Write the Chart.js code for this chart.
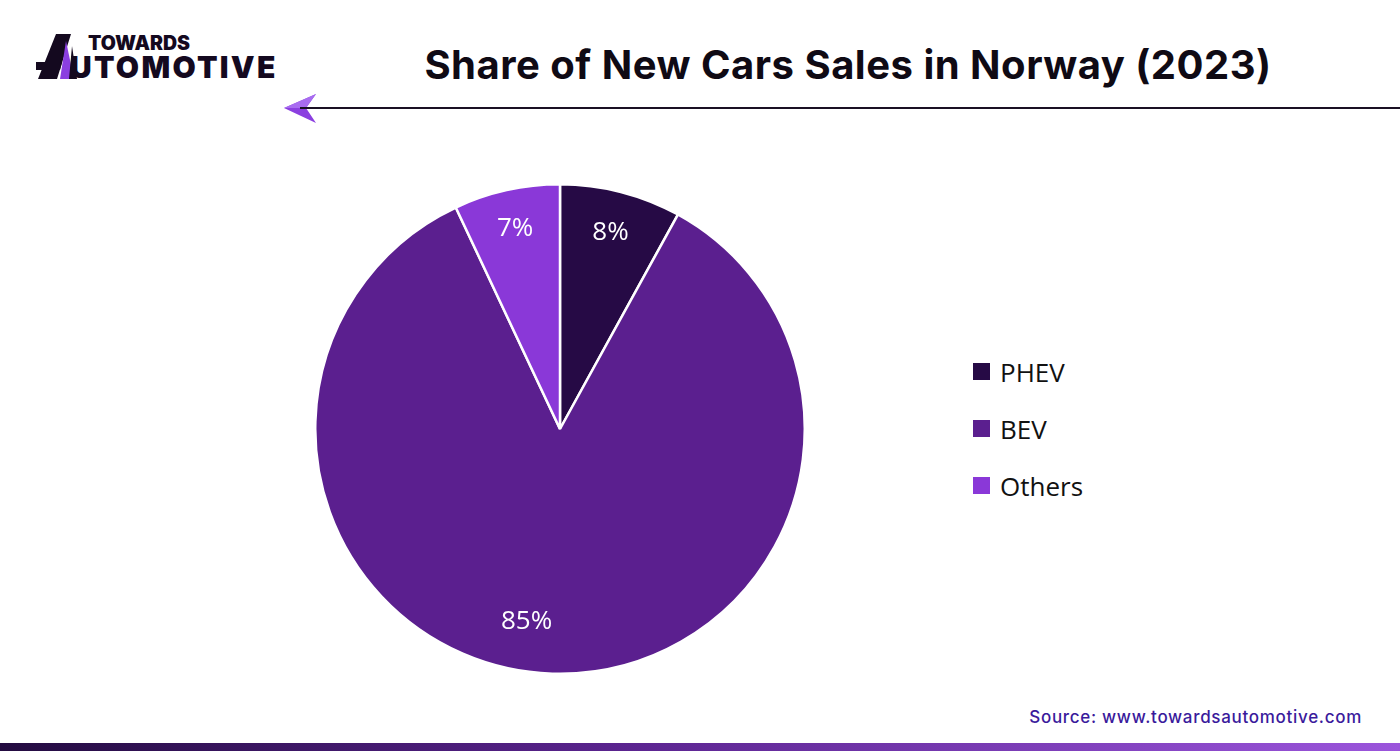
<!DOCTYPE html>
<html>
<head>
<meta charset="utf-8">
<script src="https://cdn.jsdelivr.net/npm/chart.js@4.4.1/dist/chart.umd.min.js"></script>
<style>
  html, body { margin:0; padding:0; background:#fff; }
  body { width:1400px; height:751px; position:relative; overflow:hidden; font-family:"Open Sans", "Noto Sans", sans-serif; }
  #title { position:absolute; left:0; width:1696px; top:40px; text-align:center; font-family:Inter, "Liberation Sans", sans-serif; font-weight:700; font-size:40px; color:#0f0a14; letter-spacing:0.5px; }
  #rule { position:absolute; left:300px; top:107px; width:1100px; height:2px; background:#1a1024; }
  #chartBox { position:absolute; left:314px; top:183px; width:492px; height:492px; }
  #legend { position:absolute; left:973px; top:343px; }
  .li { display:flex; align-items:center; height:57px; font-size:26px; color:#111; }
  .sw { width:17px; height:17px; margin-right:10px; }
  #source { position:absolute; right:38px; top:707px; font-family:Inter, "Open Sans", sans-serif; font-size:17px; letter-spacing:0.7px; color:#3a1a9c; font-weight:500; }
  #bar { position:absolute; left:0; top:743px; width:1400px; height:8px; background:linear-gradient(to right,#230b40,#5b2490 45%,#9b55dc); }
  #logo { position:absolute; left:36px; top:34px; }
</style>
</head>
<body>
<svg id="logo" width="260" height="50" viewBox="0 0 260 50">
  <polygon points="20,0 35,0 21,45 2,45" fill="#14091f"/>
  <polygon points="30,7 38,45 24,45" fill="#8b3fe0"/>
  <polygon points="0,28 26,28 24,36 0,36" fill="#14091f"/>
  <polygon points="36,12 41,45 33,45" fill="#14091f"/>
  <text x="52" y="16" font-family="Inter, Liberation Sans, sans-serif" font-weight="900" font-size="19.5" fill="#14091f">TOWARDS</text>
  <text x="34" y="44" font-family="Inter, Liberation Sans, sans-serif" font-weight="900" font-size="30" fill="#14091f" letter-spacing="2.3">UTOMOTIVE</text>
</svg>
<div id="title">Share of New Cars Sales in Norway (2023)</div>
<svg style="position:absolute;left:284px;top:94px" width="34" height="30"><polygon points="0,14 32,0 22,14 32,29" fill="#8b3fe0"/><polygon points="0,14 32,0 22,14" fill="#a86cf0"/></svg>
<div id="rule"></div>
<div id="chartBox"><canvas id="c"></canvas></div>
<div id="legend"></div>
<div id="source">Source: www.towardsautomotive.com</div>
<div id="bar"></div>
<script>
const categories = ["PHEV", "BEV", "Others"];
const shares = [8, 85, 7];
const colors = ["#260a45", "#5b1f8f", "#8a38d8"];
const labelRadiusFraction = [0.83, 0.8, 0.84];
const labelAngleShift = [0, 0.14, 0];

const legend = document.getElementById('legend');
categories.forEach((c, i) => {
  const d = document.createElement('div'); d.className = 'li';
  d.innerHTML = '<span class="sw" style="background:' + colors[i] + '"></span><span>' + c + '</span>';
  legend.appendChild(d);
});

const labelPlugin = {
  id: 'pctLabels',
  afterDatasetsDraw(chart) {
    const ctx = chart.ctx;
    const meta = chart.getDatasetMeta(0);
    ctx.save();
    ctx.fillStyle = '#ffffff';
    ctx.font = '26px "Open Sans", "Noto Sans", sans-serif';
    ctx.textAlign = 'center';
    ctx.textBaseline = 'middle';
    meta.data.forEach((arc, i) => {
      const p = arc.getProps(['x','y','startAngle','endAngle','outerRadius'], true);
      const a = (p.startAngle + p.endAngle) / 2 + labelAngleShift[i];
      const r = p.outerRadius * labelRadiusFraction[i];
      ctx.fillText(shares[i] + '%', p.x + Math.cos(a) * r, p.y + Math.sin(a) * r);
    });
    ctx.restore();
  }
};

new Chart(document.getElementById('c'), {
  type: 'pie',
  data: {
    labels: categories,
    datasets: [{ data: shares, backgroundColor: colors, borderColor: '#ffffff', borderWidth: 2.5 }]
  },
  options: {
    responsive: true,
    maintainAspectRatio: false,
    animation: false,
    layout: { padding: 0 },
    plugins: { legend: { display: false }, tooltip: { enabled: false } }
  },
  plugins: [labelPlugin]
});
</script>
</body>
</html>
